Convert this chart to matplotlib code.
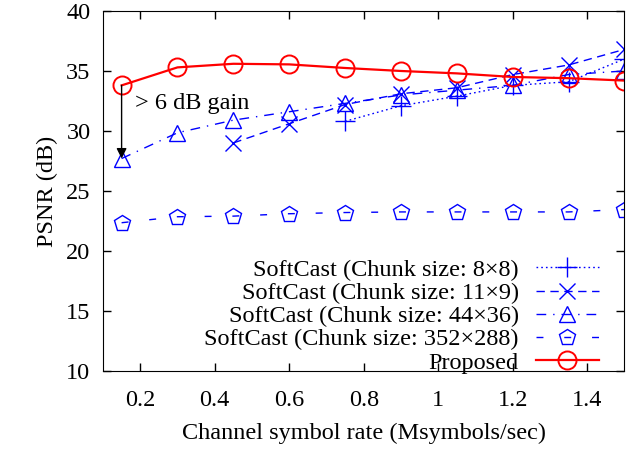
import matplotlib
matplotlib.use("Agg")
import matplotlib.pyplot as plt

plt.rcParams["font.family"] = ["Liberation Serif", "DejaVu Serif"]
plt.rcParams["font.size"] = 17.5

# ── data ──────────────────────────────────────────────────────────────────────
rate = [0.15, 0.30, 0.45, 0.60, 0.75, 0.90, 1.05, 1.20, 1.35, 1.50]

rate_8x8 = [0.75, 0.90, 1.05, 1.20, 1.35, 1.50]
psnr_8x8 = [30.8, 32.1, 32.9, 33.8, 34.1, 36.0]

rate_11x9 = [0.45, 0.60, 0.75, 0.90, 1.05, 1.20, 1.35, 1.50]
psnr_11x9 = [29.0, 30.6, 32.2, 33.1, 33.6, 34.7, 35.5, 36.8]

psnr_44x36 = [27.7, 29.85, 30.9, 31.6, 32.3, 33.0, 33.4, 33.8, 34.7, 35.0]
psnr_352x288 = [22.35, 22.85, 22.9, 23.1, 23.2, 23.25, 23.25, 23.25, 23.25, 23.45]
psnr_proposed = [33.8, 35.3, 35.6, 35.55, 35.25, 35.0, 34.8, 34.5, 34.4, 34.2]

labels = ["SoftCast (Chunk size: 8×8)",
          "SoftCast (Chunk size: 11×9)",
          "SoftCast (Chunk size: 44×36)",
          "SoftCast (Chunk size: 352×288)",
          "Proposed"]

# ── plot ──────────────────────────────────────────────────────────────────────
fig = plt.figure(figsize=(6.26, 4.49), dpi=100)
ax = fig.add_axes([0.1645, 0.174, 0.833, 0.8015])

BLUE = "#0000ff"
RED = "#ff0000"

ax.plot(rate_8x8, psnr_8x8, color=BLUE, lw=1, linestyle=(0, (1.2, 2.2)),
        marker="+", ms=14, mew=1, label=labels[0])
ax.plot(rate_11x9, psnr_11x9, color=BLUE, lw=1, linestyle=(0, (6, 4)),
        marker="x", ms=12, mew=1, label=labels[1])
ax.plot(rate, psnr_44x36, color=BLUE, lw=1, linestyle=(0, (7, 5, 1, 5)),
        marker="^", ms=12, mew=1, mfc="none", label=labels[2])
ax.plot(rate, psnr_352x288, color=BLUE, lw=1, linestyle=(0, (5, 15)),
        marker="p", ms=12, mew=1, mfc="none", label=labels[3])
ax.plot(rate, psnr_proposed, color=RED, lw=1.6, linestyle="-",
        marker="o", ms=13, mew=1.4, mfc="none", label=labels[4])

# gain annotation between proposed and SoftCast 44x36 at the lowest rate
ax.annotate("", xy=(rate[0], psnr_44x36[0]), xytext=(rate[0], psnr_proposed[0]),
            arrowprops=dict(arrowstyle="-|>", color="black", lw=1,
                            mutation_scale=15, shrinkA=0, shrinkB=0))
ax.text(0.187, 32.25, "> 6 dB gain", ha="left", va="center")

ax.set_xlim(0.1, 1.5)
ax.set_ylim(10, 40)
ax.set_xticks([0.2, 0.4, 0.6, 0.8, 1.0, 1.2, 1.4])
ax.set_xticklabels(["0.2", "0.4", "0.6", "0.8", "1", "1.2", "1.4"])
ax.set_yticks(range(10, 41, 5))
ax.tick_params(direction="in", length=6, width=1, top=True, right=True)
ax.tick_params(axis="x", pad=14)
ax.tick_params(axis="y", pad=9)
ax.set_xlabel("Channel symbol rate (Msymbols/sec)", labelpad=8)
ax.set_ylabel("PSNR (dB)", labelpad=6)

ax.legend(loc="lower right", frameon=False, markerfirst=False,
          handlelength=2.6, labelspacing=0.05, handletextpad=0.7,
          borderaxespad=0.0, bbox_to_anchor=(0.97, -0.035))

fig.savefig("out.png", dpi=100)
